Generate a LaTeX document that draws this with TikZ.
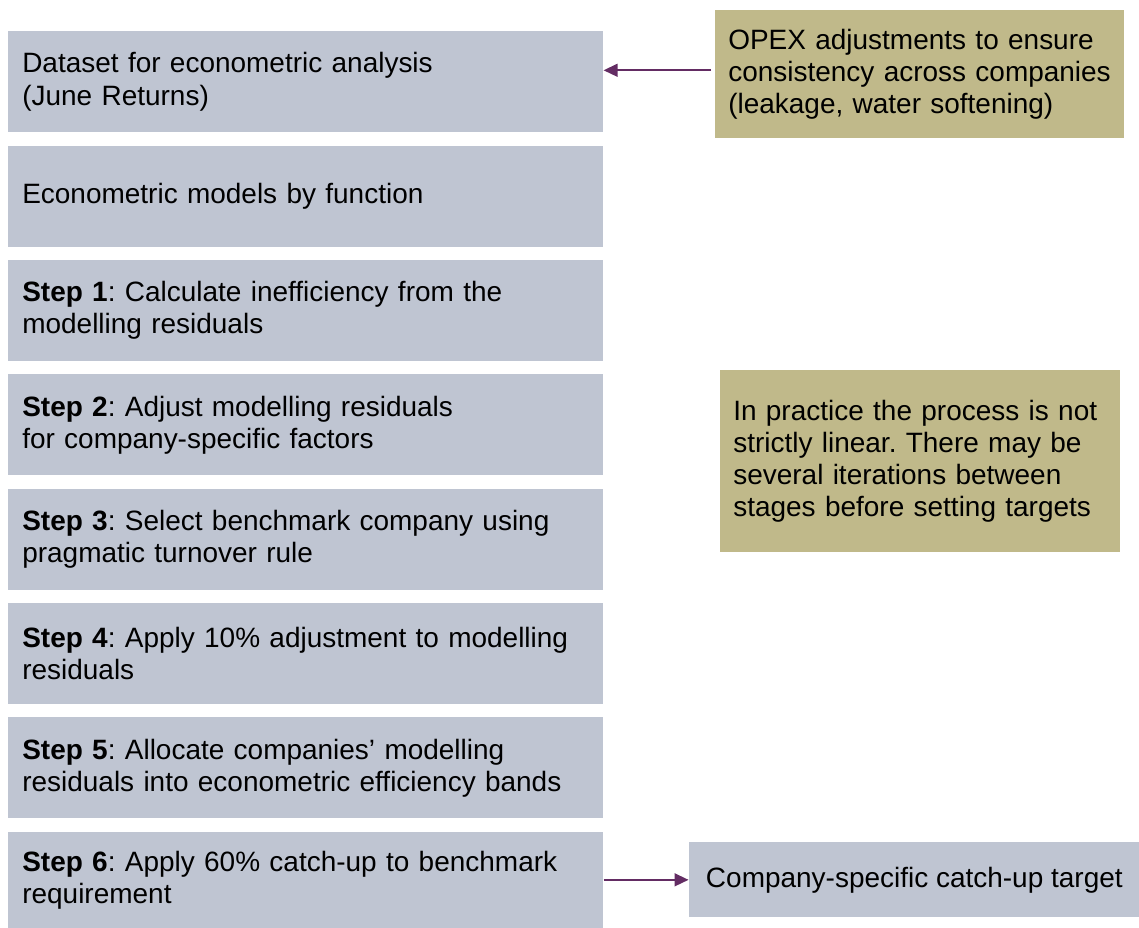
\documentclass[tikz,border=0pt]{standalone}
\usepackage{fontspec}
\setmainfont{Liberation Sans}
\usetikzlibrary{positioning,arrows.meta}
\definecolor{stepgray}{HTML}{BFC5D2}
\definecolor{noteolive}{HTML}{C0B98A}
\definecolor{arrowplum}{HTML}{632C63}
\hyphenpenalty=10000
\exhyphenpenalty=10000
\frenchspacing
\begin{document}
\begin{tikzpicture}[font=\fontsize{19.9}{22.8}\selectfont,
  node distance=0.32cm,
  stage/.style={fill=stepgray, minimum height=2.525cm, text width=14.175cm, inner xsep=0.35cm, align=left},
  note/.style={fill=noteolive, anchor=north west, inner xsep=0.325cm, align=left},
  link/.style={draw=arrowplum, line width=1.4pt, -{Triangle[length=0.35cm,width=0.32cm]}}]
  \useasboundingbox (-0.2,0.775) rectangle (28.275,-22.4);
  \node[stage, anchor=north west] (data) at (0,0) {Dataset for econometric analysis\\(June Returns)};
  \node[stage, below=of data] (models) {Econometric models by function};
  \node[stage, below=of models] (step1) {\textbf{Step 1}: Calculate inefficiency from the\\modelling residuals};
  \node[stage, below=of step1] (step2) {\textbf{Step 2}: Adjust modelling residuals\\for company-specific factors};
  \node[stage, below=of step2] (step3) {\textbf{Step 3}: Select benchmark company using\\pragmatic turnover rule};
  \node[stage, below=of step3] (step4) {\textbf{Step 4}: Apply 10\% adjustment to modelling\\residuals};
  \node[stage, below=of step4] (step5) {\textbf{Step 5}: Allocate companies’ modelling\\residuals into econometric efficiency bands};
  \node[stage, below=of step5, minimum height=2.4cm] (step6) {\textbf{Step 6}: Apply 60\% catch-up to benchmark\\requirement};
  \node[note, text width=9.575cm, minimum height=3.2cm] (opex) at (17.675,0.525) {OPEX adjustments to ensure\\consistency across companies\\(leakage, water softening)};
  \node[note, text width=9.35cm, minimum height=4.55cm] (practice) at (17.8,-8.475) {In practice the process is not\\strictly linear. There may be\\several iterations between\\stages before setting targets};
  \node[fill=stepgray, minimum width=11.275cm, minimum height=1.875cm, right=2.125cm of step6] (target) {Company-specific catch-up target};
  \draw[link] ([xshift=-0.1cm,yshift=0.1cm]opex.west) -- ([yshift=0.1cm]data.east |- opex.west);
  \draw[link] (step6.east |- target.west) -- (target.west);
\end{tikzpicture}
\end{document}
